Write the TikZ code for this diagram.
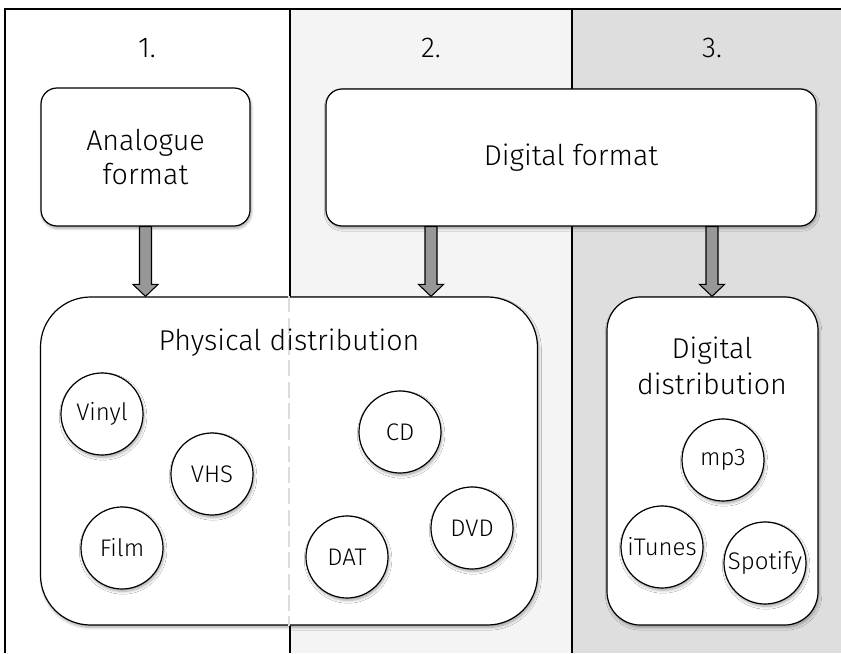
\documentclass[tikz,border=0pt]{standalone}
\usepackage{fontspec}
\setmainfont{Fira Sans}[UprightFont={* Light}]
\usepackage{tikz}
\usetikzlibrary{calc,shadows.blur}
\tikzset{>=stealth}
\definecolor{lanelight}{HTML}{F4F4F4}
\definecolor{lanedark}{HTML}{DEDEDE}
\definecolor{arrowgray}{HTML}{979797}
\definecolor{splitgray}{HTML}{DCDCDC}

\begin{document}
\begin{tikzpicture}[x=0.75pt,y=-0.75pt,
    softshadow/.style={blur shadow={shadow xshift=0.8pt,shadow yshift=-1.8pt,shadow blur steps=6,shadow opacity=35}},
    box/.style={draw,fill=white,line width=0.9pt,rounded corners=#1,softshadow,align=center,font=\fontsize{21.5}{26}\selectfont},
    disc/.style={draw,circle,fill=white,line width=0.9pt,minimum size=61.5pt,inner sep=0pt,softshadow,font=\fontsize{18}{20}\selectfont},
    title/.style={font=\fontsize{21.5}{27}\selectfont,align=center},
    fatarrow/.style={draw,fill=arrowgray,line width=0.8pt,
      to path={let \p1=(\tikztostart), \p2=(\tikztotarget) in
        (\x1-4.5pt,\y1) -- (\x1-4.5pt,\y2+9pt) -- (\x1-9.4pt,\y2+9pt) -- (\x1,\y2)
        -- (\x1+9.4pt,\y2+9pt) -- (\x1+4.5pt,\y2+9pt) -- (\x1+4.5pt,\y1) -- cycle}}]
  \useasboundingbox (0,0) rectangle (841,653);

  % the three lanes
  \fill[lanelight] (290,9) rectangle (572,653);
  \fill[lanedark] (572,9) rectangle (841,653);
  \draw[line width=1.1pt] (5,653) -- (5,9) -- (841,9);
  \draw[line width=0.9pt] (290,9) -- (290,653) (572,9) -- (572,653);

  \node[title] (n1) at (147,48) {1.};
  \node[title] (n2) at (431,48) {2.};
  \node[title] (n3) at (712,48) {3.};

  % formats
  \node[box=12pt,minimum width=156.75pt,minimum height=103.5pt] (analog) at (145.5,157) {Analogue\\format};
  \node[box=12pt,minimum width=367.5pt,minimum height=102.75pt] (digfmt) at (571,157.5) {Digital format};

  % distribution
  \node[box=37.5pt,minimum width=372.75pt,minimum height=246pt] (phys) at (289,461) {};
  \node[box=25pt,minimum width=158.25pt,minimum height=246pt] (digdist) at (712.5,461) {};
  \draw[splitgray,line width=1pt,dash pattern=on 12pt off 4pt] (phys.north) -- (phys.south);
  \node[title] (physlabel) at (289,343) {Physical distribution};
  \node[title] (digdistlabel) at (712,366) {Digital\\distribution};

  \node[disc] (vinyl) at (102,414) {Vinyl};
  \node[disc] (vhs) at (212,474) {VHS};
  \node[disc] (film) at (122,548) {Film};
  \node[disc] (cd) at (400,432) {CD};
  \node[disc] (dvd) at (472,528) {DVD};
  \node[disc] (dat) at (347,557) {DAT};
  \node[disc] (mp3) at (723,460) {mp3};
  \node[disc] (itunes) at (662,547) {iTunes};
  \node[disc] (spotify) at (765,563) {Spotify};

  \path[fatarrow] (analog.south) to (analog.south |- phys.north);
  \path[fatarrow] (digfmt.south -| n2) to (phys.north -| n2);
  \path[fatarrow] (digfmt.south -| n3) to (digdist.north -| n3);
\end{tikzpicture}
\end{document}
